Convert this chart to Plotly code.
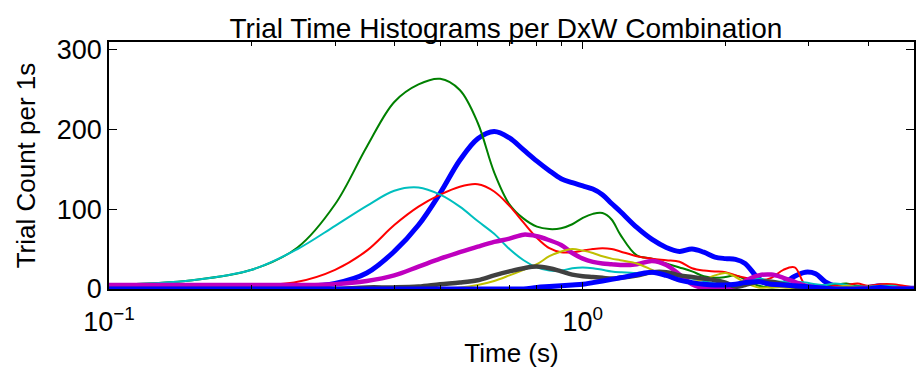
import plotly.graph_objects as go

# Time grid (s) shared by all smoothed histogram curves
time_s = [0.10, 0.15, 0.20, 0.25, 0.30, 0.35, 0.40, 0.45, 0.50, 0.55, 0.60, 0.65,
          0.70, 0.75, 0.80, 0.85, 0.90, 0.95, 1.00, 1.05, 1.10, 1.15, 1.20, 1.30,
          1.40, 1.50, 1.60, 1.70, 1.80, 1.90, 2.00, 2.10, 2.20, 2.35, 2.50, 2.65,
          2.80, 2.95, 3.10, 3.25, 3.40, 3.60, 3.80, 4.00, 4.25, 4.50, 4.75, 5.00]

# Trial counts per 1 s for each DxW combination
blue_a = [1, 1, 2, 3, 7, 20, 47, 80, 120, 161, 188, 197,
          189, 174, 160, 148, 138, 133, 129, 125, 118, 107, 97, 77,
          62, 52, 47, 50, 46, 40, 38, 37, 32, 13, 5, 7,
          16, 21, 19, 9, 4, 2, 1, 2, 4, 2, 1, 1]
green = [5, 11, 24, 52, 106, 178, 234, 256, 263, 249, 208, 146,
         106, 88, 78, 75, 76, 81, 89, 94, 95, 87, 68, 42,
         38, 32, 27, 22, 16, 14, 15, 17, 12, 4, 2, 3,
         4, 3, 2, 3, 5, 7, 4, 2, 3, 5, 2, 1]
red = [4, 4, 4, 9, 24, 48, 80, 103, 118, 128, 131, 122,
       104, 83, 64, 51, 46, 46, 48, 50, 51, 50, 47, 41,
       38, 36, 34, 26, 23, 22, 21, 17, 14, 11, 14, 24,
       27, 5, 3, 2, 4, 5, 7, 4, 6, 6, 4, 2]
cyan = [5, 11, 24, 50, 79, 104, 123, 127, 118, 103, 85, 69,
        50, 36, 27, 23, 23, 26, 27, 26, 24, 22, 21, 20,
        21, 18, 15, 13, 10, 7, 6, 7, 10, 13, 10, 9,
        9, 8, 6, 5, 7, 5, 3, 3, 4, 4, 2, 1]
magenta = [5, 5, 5, 5, 6, 10, 17, 28, 38, 46, 53, 59,
           63, 68, 66, 61, 55, 45, 38, 34, 32, 31, 30, 31,
           35, 30, 18, 6, 1, 0, 0, 2, 10, 17, 18, 14,
           9, 4, 2, 1, 1, 1, 1, 1, 1, 1, 1, 1]
yellow = [0, 0, 0, 0, 0, 0, 0, 0, 1, 2, 5, 10,
          17, 24, 31, 41, 47, 50, 48, 45, 41, 38, 36, 32,
          24, 16, 10, 9, 12, 17, 20, 15, 8, 2, 2, 2,
          1, 1, 1, 1, 2, 4, 2, 1, 1, 1, 1, 0]
gray = [0, 0, 0, 0, 0, 2, 2, 3, 6, 8, 11, 17,
        22, 26, 28, 26, 22, 18, 16, 15, 14, 13, 14, 17,
        21, 21, 17, 15, 13, 11, 8, 3, 5, 9, 9, 6,
        3, 1, 1, 0, 0, 0, 0, 0, 0, 0, 0, 0]
blue_b = [0, 0, 0, 0, 0, 0, 0, 0, 0, 0, 0, 0,
          0, 0, 2, 3, 4, 5, 6, 8, 10, 12, 14, 18,
          21, 17, 11, 8, 6, 5, 5, 6, 8, 9, 6, 5,
          4, 3, 2, 1, 0, 0, 0, 0, 2, 0, 0, 0]

series = [
    (blue_a, "#0000FF", 5),
    (green, "#008000", 2),
    (red, "#FF0000", 2),
    (cyan, "#00BFBF", 2),
    (magenta, "#BF00BF", 4.5),
    (yellow, "#BFBF00", 2),
    (gray, "#404040", 4.5),
    (blue_b, "#0000FF", 5),
]

x_major = [0.1, 1]
x_major_text = ["10<sup>−1</sup>", "10<sup>0</sup>"]
x_minor = [0.2, 0.3, 0.4, 0.5, 0.6, 0.7, 0.8, 0.9, 2, 3, 4, 5]
y_ticks = [0, 100, 200, 300]

fig = go.Figure()
for values, color, width in series:
    fig.add_trace(go.Scatter(
        x=time_s, y=values, mode="lines",
        line=dict(color=color, width=width, shape="spline", smoothing=1.0),
        showlegend=False, cliponaxis=True,
    ))

font = "Liberation Sans, Arial, Helvetica, sans-serif"

fig.update_layout(
    width=917, height=371,
    margin=dict(l=109, r=1, t=42, b=82),
    paper_bgcolor="white", plot_bgcolor="white",
    font=dict(family=font, size=27, color="black"),
    title=dict(text="Trial Time Histograms per DxW Combination",
               x=506 / 917, xanchor="center", xref="container",
               y=1 - 28.5 / 371, yanchor="middle", yref="container",
               font=dict(size=28)),
)

fig.update_xaxes(
    type="log", range=[-1, 0.69897],
    tickmode="array", tickvals=x_major, ticktext=x_major_text,
    ticks="inside", ticklen=7, tickwidth=1, tickcolor="black",
    ticklabelstandoff=8,
    minor=dict(tickmode="array", tickvals=x_minor, ticks="inside",
               ticklen=4, tickwidth=1, tickcolor="black", showgrid=False),
    showline=True, linecolor="black", linewidth=1.5, mirror="ticks",
    showgrid=False, zeroline=False,
    title=dict(text="Time (s)", standoff=8, font=dict(size=26)),
)
fig.update_yaxes(
    range=[0, 309],
    tickmode="array", tickvals=y_ticks,
    ticks="inside", ticklen=8, tickwidth=1, tickcolor="black",
    ticklabelstandoff=0,
    showline=True, linecolor="black", linewidth=1.5, mirror="ticks",
    showgrid=False, zeroline=False,
    title=dict(text="Trial Count per 1s", standoff=14, font=dict(size=26)),
)

fig.write_html("out.html")
